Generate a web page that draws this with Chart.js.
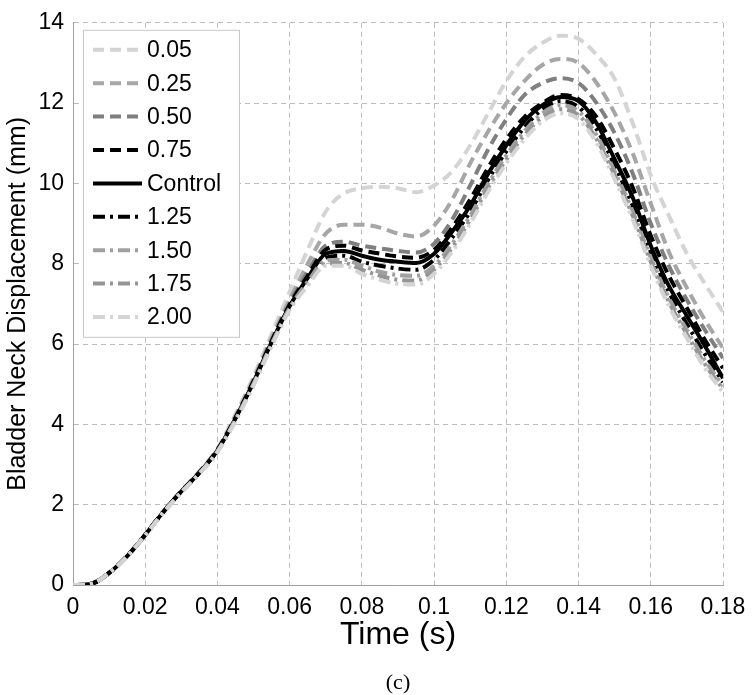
<!DOCTYPE html>
<html>
<head>
    <meta charset="utf-8"/>
    <title>Bladder Neck Displacement</title>
    <style>
        body { margin: 0; background: #ffffff; }
        #chart { display: block; }
    </style>
    <script src="https://cdn.jsdelivr.net/npm/chart.js"></script>
</head>
<body>
<canvas id="chart" width="755" height="695"></canvas>
<script>
    // time samples (s)
    const time = [0, 0.005, 0.01, 0.015, 0.02, 0.025, 0.03, 0.035, 0.04, 0.045, 0.05, 0.055,
        0.06, 0.065, 0.07, 0.075, 0.08, 0.085, 0.09, 0.095, 0.1, 0.105, 0.11, 0.115,
        0.12, 0.125, 0.13, 0.135, 0.14, 0.145, 0.15, 0.155, 0.16, 0.165, 0.17, 0.175, 0.18];

    // displacement (mm) per stiffness factor
    const d005 = [0, 0.03, 0.3, 0.72, 1.25, 1.83, 2.35, 2.83, 3.4, 4.25, 5.2, 6.25, 7.3, 8.35, 9.3, 9.75, 9.88, 9.92, 9.88, 9.78, 9.95, 10.3, 10.95, 11.75, 12.55, 13.15, 13.5, 13.68, 13.6, 13.2, 12.6, 11.5, 10.2, 9.2, 8.25, 7.5, 6.8];
    const d025 = [0, 0.03, 0.3, 0.72, 1.25, 1.82, 2.34, 2.82, 3.38, 4.2, 5.12, 6.15, 7.1, 8.0, 8.75, 8.97, 8.97, 8.9, 8.75, 8.68, 8.95, 9.6, 10.5, 11.3, 12.0, 12.55, 12.95, 13.1, 13.0, 12.5, 11.75, 10.75, 9.5, 8.3, 7.4, 6.6, 5.9];
    const d050 = [0, 0.03, 0.3, 0.72, 1.25, 1.82, 2.33, 2.81, 3.37, 4.18, 5.1, 6.1, 7.02, 7.8, 8.45, 8.55, 8.45, 8.38, 8.32, 8.28, 8.5, 9.1, 9.95, 10.85, 11.6, 12.2, 12.5, 12.62, 12.5, 12.0, 11.25, 10.25, 9.0, 7.95, 7.1, 6.35, 5.65];
    const d075 = [0, 0.03, 0.3, 0.72, 1.25, 1.82, 2.33, 2.8, 3.36, 4.16, 5.07, 6.07, 6.98, 7.7, 8.35, 8.45, 8.33, 8.25, 8.18, 8.15, 8.35, 8.9, 9.6, 10.4, 11.1, 11.65, 12.0, 12.2, 12.1, 11.65, 10.85, 9.9, 8.7, 7.7, 6.9, 6.1, 5.4];
    const dControl = [0, 0.03, 0.3, 0.72, 1.25, 1.82, 2.33, 2.8, 3.35, 4.15, 5.05, 6.05, 6.95, 7.65, 8.25, 8.32, 8.2, 8.1, 8.05, 8.02, 8.25, 8.8, 9.45, 10.25, 10.95, 11.55, 11.95, 12.15, 12.05, 11.5, 10.6, 9.65, 8.45, 7.45, 6.7, 5.95, 5.15];
    const d125 = [0, 0.03, 0.3, 0.72, 1.25, 1.82, 2.32, 2.79, 3.34, 4.13, 5.03, 6.02, 6.92, 7.6, 8.15, 8.2, 8.05, 7.95, 7.88, 7.85, 8.1, 8.65, 9.3, 10.1, 10.8, 11.4, 11.85, 12.05, 11.9, 11.35, 10.45, 9.45, 8.3, 7.3, 6.5, 5.75, 5.05];
    const d150 = [0, 0.03, 0.3, 0.72, 1.24, 1.81, 2.31, 2.78, 3.33, 4.12, 5.01, 6.0, 6.9, 7.55, 8.08, 8.1, 7.95, 7.8, 7.72, 7.7, 7.95, 8.5, 9.2, 10.0, 10.7, 11.3, 11.75, 11.95, 11.8, 11.2, 10.3, 9.3, 8.15, 7.15, 6.35, 5.6, 4.95];
    const d175 = [0, 0.03, 0.3, 0.71, 1.24, 1.81, 2.31, 2.78, 3.32, 4.1, 4.99, 5.98, 6.88, 7.5, 8.0, 8.02, 7.85, 7.7, 7.6, 7.58, 7.85, 8.4, 9.1, 9.9, 10.6, 11.2, 11.65, 11.85, 11.7, 11.1, 10.2, 9.2, 8.05, 7.05, 6.25, 5.5, 4.88];
    const d200 = [0, 0.03, 0.3, 0.71, 1.24, 1.8, 2.3, 2.77, 3.31, 4.08, 4.97, 5.95, 6.85, 7.45, 7.95, 7.95, 7.75, 7.6, 7.5, 7.48, 7.75, 8.3, 9.0, 9.8, 10.5, 11.1, 11.55, 11.75, 11.6, 11.0, 10.1, 9.1, 7.95, 6.95, 6.15, 5.4, 4.8];

    const seriesLabels = ['0.05', '0.25', '0.50', '0.75', 'Control', '1.25', '1.50', '1.75', '2.00'];
    const seriesData = [d005, d025, d050, d075, dControl, d125, d150, d175, d200];

    const xTicks = [0, 0.02, 0.04, 0.06, 0.08, 0.1, 0.12, 0.14, 0.16, 0.18];
    const xTickLabels = ['0', '0.02', '0.04', '0.06', '0.08', '0.1', '0.12', '0.14', '0.16', '0.18'];
    const yTicks = [0, 2, 4, 6, 8, 10, 12, 14];

    // line styles
    const colors = ['#d4d4d4', '#a6a6a6', '#7f7f7f', '#000000', '#000000', '#000000', '#a0a0a0', '#959595', '#d4d4d4'];
    const dashed = [11, 6];
    const dashDot = [12, 5, 3, 5];
    const dashes = [dashed, dashed, dashed, dashed, [], dashDot, dashDot, dashDot, dashDot];

    const FONT = '"Liberation Sans", Arial, Helvetica, sans-serif';

    const datasets = seriesData.map((vals, i) => ({
        label: seriesLabels[i],
        data: time.map((t, j) => ({ x: t, y: vals[j] })),
        borderColor: colors[i],
        borderDash: dashes[i],
        borderWidth: 4,
        pointRadius: 0,
        fill: false,
        cubicInterpolationMode: 'monotone',
        order: seriesData.length - i   // last series on top, like matlab
    }));

    // legend box inside the axes, top left
    const boxLegend = {
        id: 'boxLegend',
        afterDatasetsDraw(chart) {
            const ctx = chart.ctx;
            const area = chart.chartArea;
            const x0 = area.left + 10, y0 = area.top + 7;
            const w = 156, h = 307;
            ctx.save();
            ctx.fillStyle = '#ffffff';
            ctx.fillRect(x0, y0, w, h);
            ctx.strokeStyle = '#c8c8c8';
            ctx.lineWidth = 1;
            ctx.strokeRect(x0 + 0.5, y0 + 0.5, w, h);
            ctx.font = '23px ' + FONT;
            ctx.textBaseline = 'middle';
            chart.data.datasets.forEach((ds, i) => {
                const y = y0 + 20 + i * 33.4;
                ctx.beginPath();
                ctx.setLineDash(ds.borderDash);
                ctx.strokeStyle = ds.borderColor;
                ctx.lineWidth = ds.borderWidth;
                ctx.moveTo(x0 + 10, y);
                ctx.lineTo(x0 + 59, y);
                ctx.stroke();
                ctx.setLineDash([]);
                ctx.fillStyle = '#000000';
                ctx.fillText(ds.label, x0 + 64, y + 1);
            });
            ctx.restore();
        }
    };

    // "(c)" caption under the axis title
    const caption = {
        id: 'caption',
        afterDraw(chart) {
            const ctx = chart.ctx;
            const area = chart.chartArea;
            ctx.save();
            ctx.font = '22px "Liberation Serif", "Times New Roman", serif';
            ctx.fillStyle = '#000000';
            ctx.textAlign = 'center';
            ctx.textBaseline = 'middle';
            ctx.fillText('(c)', (area.left + area.right) / 2, 683);
            ctx.restore();
        }
    };

    new Chart(document.getElementById('chart'), {
        type: 'line',
        data: { datasets: datasets },
        options: {
            responsive: false,
            animation: false,
            layout: { padding: { left: 0, right: 32, top: 16, bottom: 0 } },
            plugins: {
                legend: { display: false },
                tooltip: { enabled: false }
            },
            scales: {
                x: {
                    type: 'linear',
                    min: 0,
                    max: 0.18,
                    afterBuildTicks: s => { s.ticks = xTicks.map(v => ({ value: v })); },
                    afterFit: s => { s.height = 110; },
                    grid: { color: '#bdbdbd', lineWidth: 1, drawTicks: false },
                    border: { display: true, color: '#a0a0a0', width: 1, dash: [5, 4] },
                    ticks: {
                        color: '#000000',
                        font: { family: FONT, size: 23 },
                        padding: 9,
                        maxRotation: 0,
                        callback: (v, i) => xTickLabels[i]
                    },
                    title: {
                        display: true,
                        text: 'Time (s)',
                        color: '#000000',
                        font: { family: FONT, size: 32 },
                        padding: { top: 0, bottom: 41 }
                    }
                },
                y: {
                    min: 0,
                    max: 14,
                    afterBuildTicks: s => { s.ticks = yTicks.map(v => ({ value: v })); },
                    afterFit: s => { s.width = 73; },
                    grid: { color: '#bdbdbd', lineWidth: 1, drawTicks: false },
                    border: { display: true, color: '#a0a0a0', width: 1, dash: [5, 4] },
                    ticks: {
                        color: '#000000',
                        font: { family: FONT, size: 23 },
                        padding: 9
                    },
                    title: {
                        display: true,
                        text: 'Bladder Neck Displacement (mm)',
                        color: '#000000',
                        font: { family: FONT, size: 25 },
                        padding: { top: 3, bottom: 0 }
                    }
                }
            }
        },
        plugins: [boxLegend, caption]
    });
</script>
</body>
</html>
